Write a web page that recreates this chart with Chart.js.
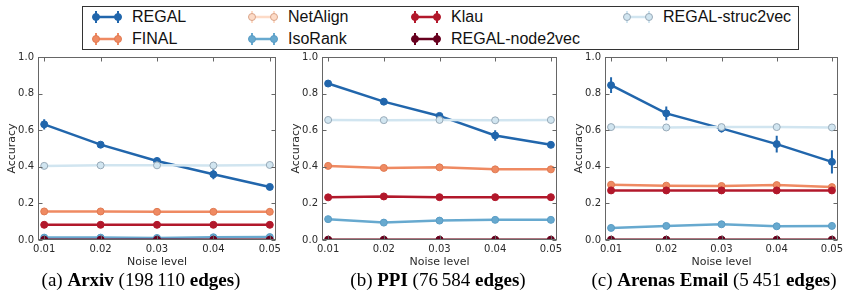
<!DOCTYPE html>
<html>
<head>
<meta charset="utf-8">
<script src="https://cdn.jsdelivr.net/npm/chart.js@4.4.0/dist/chart.umd.min.js"></script>
<style>
  body { margin: 0; width: 843px; height: 294px; background: #fff; position: relative; overflow: hidden; }
  .panel { position: absolute; top: 49px; height: 222px; }
  #legendBox { position: absolute; left: 82px; top: 6px; width: 717px; height: 44px; border: 1px solid #333; box-sizing: border-box; }
  .item { position: absolute; font: 16px 'Liberation Sans', Arial, sans-serif; line-height: 18px; color: #111; white-space: nowrap; }
  .sym { position: absolute; }
  .caption { position: absolute; top: 269px; font: 19px 'Liberation Serif', 'DejaVu Serif', serif; color: #000; white-space: nowrap; transform: translateX(-50%); }
</style>
</head>
<body>
<div id="legendBox"></div>
<div id="legend"></div>

<div class="panel" style="left:0px;width:284px"><canvas id="arxiv"></canvas></div>
<div class="panel" style="left:284px;width:281px"><canvas id="ppi"></canvas></div>
<div class="panel" style="left:567px;width:276px"><canvas id="arenas"></canvas></div>

<div class="caption" style="left:141px">(a) <b>Arxiv</b> (198&#8239;110 <b>edges</b>)</div>
<div class="caption" style="left:438px">(b) <b>PPI</b> (76&#8239;584 <b>edges</b>)</div>
<div class="caption" style="left:714px">(c) <b>Arenas Email</b> (5&#8239;451 <b>edges</b>)</div>

<script>
const noiseLevels = [0.01, 0.02, 0.03, 0.04, 0.05];
const yTicks = [0, 0.2, 0.4, 0.6, 0.8, 1.0];
const methods = ['REGAL', 'FINAL', 'NetAlign', 'IsoRank', 'Klau', 'REGAL-node2vec', 'REGAL-struc2vec'];
const colors = ['#2166ac', '#ef8a62', '#fddbc7', '#67a9cf', '#b2182b', '#67001f', '#d1e5f0'];
const edgeColors = ['#2166ac', '#e07a52', '#d9a58a', '#5a9cc4', '#b2182b', '#67001f', '#98aab8'];

// Arxiv
const arxivRegal = [0.632, 0.521, 0.432, 0.359, 0.290];
const arxivRegalErr = [0.028, 0.008, 0.008, 0.027, 0.006];
const arxivFinal = [0.156, 0.156, 0.154, 0.154, 0.154];
const arxivNetAlign = [0.001, 0.001, 0.001, 0.001, 0.001];
const arxivIsoRank = [0.013, 0.013, 0.011, 0.015, 0.016];
const arxivKlau = [0.083, 0.083, 0.083, 0.083, 0.083];
const arxivNode2vec = [0.002, 0.002, 0.002, 0.002, 0.002];
const arxivStruc2vec = [0.405, 0.408, 0.408, 0.407, 0.410];

// PPI
const ppiRegal = [0.855, 0.756, 0.678, 0.571, 0.520];
const ppiRegalErr = [0.008, 0.017, 0.014, 0.029, 0.008];
const ppiFinal = [0.405, 0.394, 0.397, 0.386, 0.386];
const ppiNetAlign = [0.001, 0.001, 0.001, 0.001, 0.001];
const ppiIsoRank = [0.114, 0.095, 0.106, 0.110, 0.110];
const ppiKlau = [0.233, 0.238, 0.234, 0.234, 0.234];
const ppiNode2vec = [0.002, 0.002, 0.002, 0.002, 0.002];
const ppiStruc2vec = [0.656, 0.655, 0.656, 0.654, 0.656];

// Arenas Email
const arenasRegal = [0.846, 0.692, 0.610, 0.524, 0.427];
const arenasRegalErr = [0.043, 0.037, 0.022, 0.046, 0.063];
const arenasFinal = [0.302, 0.297, 0.295, 0.300, 0.289];
const arenasNetAlign = [0.001, 0.001, 0.001, 0.001, 0.001];
const arenasIsoRank = [0.066, 0.077, 0.086, 0.075, 0.077];
const arenasKlau = [0.271, 0.271, 0.271, 0.271, 0.271];
const arenasNode2vec = [0.002, 0.002, 0.002, 0.002, 0.002];
const arenasStruc2vec = [0.617, 0.615, 0.617, 0.617, 0.615];

const tickFont = { family: 'DejaVu Sans', size: 10 };
const titleFont = { family: 'DejaVu Sans', size: 11 };
const textColor = '#2a2a2a';

// vertical error bars, drawn right after their own dataset
const errorBars = {
    id: 'errorBars',
    afterDatasetDraw(chart, args) {
        const ds = chart.data.datasets[args.index];
        if (!ds.errors) return;
        const { ctx, chartArea: a, scales: { y } } = chart;
        ctx.save();
        ctx.beginPath();
        ctx.rect(a.left, a.top, a.right - a.left, a.bottom - a.top);
        ctx.clip();
        ctx.strokeStyle = ds.borderColor;
        ctx.lineWidth = 2;
        ctx.beginPath();
        args.meta.data.forEach((pt, i) => {
            const v = ds.data[i].y, e = ds.errors[i];
            ctx.moveTo(pt.x, y.getPixelForValue(v - e));
            ctx.lineTo(pt.x, y.getPixelForValue(v + e));
        });
        ctx.stroke();
        ctx.restore();
    }
};

// box round the axes with inward ticks on all four sides
const frame = {
    id: 'frame',
    afterDatasetsDraw(chart) {
        const { ctx, chartArea: a, scales: { x, y } } = chart;
        const L = Math.round(a.left) + 0.5, R = Math.round(a.right) - 0.5;
        const T = Math.round(a.top) + 0.5, B = Math.round(a.bottom) - 0.5;
        ctx.save();
        ctx.strokeStyle = '#666';
        ctx.lineWidth = 1;
        ctx.beginPath();
        noiseLevels.forEach(v => {
            const px = Math.round(x.getPixelForValue(v)) + 0.5;
            ctx.moveTo(px, B); ctx.lineTo(px, B - 4);
            ctx.moveTo(px, T); ctx.lineTo(px, T + 4);
        });
        yTicks.forEach(v => {
            const py = Math.round(y.getPixelForValue(v)) + 0.5;
            ctx.moveTo(L, py); ctx.lineTo(L + 4, py);
            ctx.moveTo(R, py); ctx.lineTo(R - 4, py);
        });
        ctx.stroke();
        ctx.strokeRect(L, T, R - L, B - T);
        ctx.restore();
    }
};

function makePanel(id, series, regalErr, rightPad) {
    const datasets = series.map((vals, i) => ({
        label: methods[i],
        data: noiseLevels.map((x, j) => ({ x: x, y: vals[j] })),
        errors: i === 0 ? regalErr : null,
        borderColor: colors[i],
        backgroundColor: colors[i],
        pointBackgroundColor: colors[i],
        pointBorderColor: edgeColors[i],
        pointBorderWidth: 1,
        pointRadius: 3.5,
        borderWidth: 2.5,
        tension: 0,
        clip: 0,
        order: 6 - i
    }));

    new Chart(document.getElementById(id), {
        type: 'line',
        data: { datasets: datasets },
        options: {
            responsive: true,
            maintainAspectRatio: false,
            animation: false,
            layout: { padding: { top: 8, right: rightPad, bottom: 0, left: 0 } },
            plugins: { legend: { display: false }, tooltip: { enabled: false } },
            scales: {
                x: {
                    type: 'linear',
                    min: 0.0089,
                    max: 0.0511,
                    afterBuildTicks: s => { s.ticks = noiseLevels.map(v => ({ value: v })); },
                    afterFit: s => { s.height = 31; s.paddingLeft = 0; s.paddingRight = 0; },
                    ticks: { callback: v => v.toFixed(2), font: tickFont, color: textColor, padding: 3, maxRotation: 0, autoSkip: false },
                    grid: { display: false, drawTicks: false },
                    border: { display: false },
                    title: { display: true, text: 'Noise level', font: titleFont, color: textColor, padding: { top: 0, bottom: 2 } }
                },
                y: {
                    min: 0,
                    max: 1,
                    afterBuildTicks: s => { s.ticks = yTicks.map(v => ({ value: v })); },
                    afterFit: s => { s.width = 38; s.paddingTop = 0; s.paddingBottom = 0; },
                    ticks: { callback: v => v.toFixed(1), font: tickFont, color: textColor, padding: 4 },
                    grid: { display: false, drawTicks: false },
                    border: { display: false },
                    title: { display: true, text: 'Accuracy', font: titleFont, color: textColor, padding: { top: 6, bottom: 0 } }
                }
            }
        },
        plugins: [errorBars, frame]
    });
}

makePanel('arxiv', [arxivRegal, arxivFinal, arxivNetAlign, arxivIsoRank, arxivKlau, arxivNode2vec, arxivStruc2vec], arxivRegalErr, 8);
makePanel('ppi', [ppiRegal, ppiFinal, ppiNetAlign, ppiIsoRank, ppiKlau, ppiNode2vec, ppiStruc2vec], ppiRegalErr, 8);
makePanel('arenas', [arenasRegal, arenasFinal, arenasNetAlign, arenasIsoRank, arenasKlau, arenasNode2vec, arenasStruc2vec], arenasRegalErr, 3);

// legend: 4 columns, filled column by column
const colLeft = [132, 288, 451, 663];
const rowMid = [17, 39];
const legend = document.getElementById('legend');
methods.forEach((name, i) => {
    const col = Math.floor(i / 2), row = i % 2;
    const c = colors[i], e = edgeColors[i];
    const sym = document.createElement('div');
    sym.className = 'sym';
    sym.style.left = (colLeft[col] - 40) + 'px';
    sym.style.top = (rowMid[row] - 8) + 'px';
    sym.innerHTML =
        '<svg width="30" height="16">' +
        '<line x1="4" y1="8" x2="26" y2="8" stroke="' + c + '" stroke-width="2.5"/>' +
        '<line x1="4" y1="2" x2="4" y2="14" stroke="' + c + '" stroke-width="2"/>' +
        '<line x1="26" y1="2" x2="26" y2="14" stroke="' + c + '" stroke-width="2"/>' +
        '<circle cx="4" cy="8" r="3.5" fill="' + c + '" stroke="' + e + '"/>' +
        '<circle cx="26" cy="8" r="3.5" fill="' + c + '" stroke="' + e + '"/>' +
        '</svg>';
    legend.appendChild(sym);
    const txt = document.createElement('div');
    txt.className = 'item';
    txt.style.left = colLeft[col] + 'px';
    txt.style.top = (rowMid[row] - 9) + 'px';
    txt.textContent = name;
    legend.appendChild(txt);
});
</script>
</body>
</html>
